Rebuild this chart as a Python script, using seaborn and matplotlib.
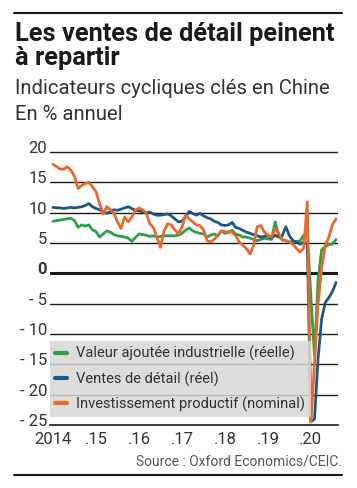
import numpy as np
import pandas as pd
import matplotlib
matplotlib.use("Agg")
import matplotlib.pyplot as plt
import matplotlib.transforms as mtransforms
from matplotlib import font_manager
import seaborn as sns

# Données mensuelles, janvier 2014 -> août 2020 (en % annuel)
mois = pd.date_range("2014-01-01", "2020-08-01", freq="MS")

valeur_ajoutee = [
    8.6, 8.7, 8.8, 8.9, 9.0, 9.1, 8.7, 7.6, 8.0, 7.8, 8.0, 7.2,
    6.9, 6.0, 6.5, 7.0, 6.8, 6.4, 6.2, 6.1, 6.0, 5.8, 5.3, 5.9,
    6.5, 6.4, 6.3, 6.1, 6.2, 6.0, 6.1, 6.2, 6.2, 6.2, 6.2, 6.3,
    6.6, 7.1, 7.5, 7.0, 6.8, 6.6, 6.5, 6.0, 6.3, 6.5, 6.2, 7.0,
    6.6, 6.8, 7.1, 6.5, 6.3, 6.0, 6.0, 5.8, 5.6, 5.4, 5.6, 5.8,
    5.7, 5.6, 8.5, 6.3, 5.5, 5.4, 5.2, 5.2, 5.2, 5.4, 6.3, 6.6,
    -4.0, -13.5, -1.1, 3.9, 4.4, 4.8, 4.8, 5.6,
]

ventes_detail = [
    10.9, 10.8, 10.8, 10.7, 10.8, 10.9, 10.8, 10.9, 11.0, 11.2, 11.5, 11.0,
    10.7, 10.5, 10.2, 9.9, 10.2, 10.5, 10.4, 10.6, 10.8, 11.0, 10.7, 10.4,
    10.3, 10.2, 10.0, 10.1, 9.8, 9.6, 9.6, 9.7, 9.8, 9.5, 9.0, 8.5,
    8.6, 9.3, 10.2, 9.9, 9.6, 9.9, 9.5, 9.2, 9.0, 8.6, 8.4, 8.0,
    7.9, 8.0, 8.4, 7.6, 7.4, 7.1, 6.8, 6.6, 6.4, 6.2, 6.0, 6.1,
    6.3, 5.8, 6.3, 6.0, 6.2, 7.7, 6.2, 5.4, 5.2, 4.8, 5.2, 4.8,
    -24.5, -24.0, -14.0, -7.5, -4.8, -4.0, -3.0, -1.5,
]

investissement = [
    18.0, 17.6, 17.2, 17.2, 17.6, 17.0, 16.0, 14.0, 14.5, 14.8, 15.0, 14.3,
    13.5, 11.5, 9.8, 11.0, 10.5, 9.9, 8.5, 7.4, 9.3, 8.5, 9.3, 10.4,
    10.8, 10.5, 10.0, 8.2, 7.6, 6.0, 4.3, 7.0, 8.2, 8.0, 7.2, 6.5,
    7.6, 9.6, 9.0, 8.5, 8.0, 7.9, 7.2, 5.4, 5.2, 5.6, 6.3, 7.0,
    6.9, 6.8, 6.8, 6.2, 5.2, 4.6, 4.1, 3.2, 4.6, 7.7, 7.9, 6.8,
    6.3, 6.0, 7.4, 6.6, 5.6, 5.4, 5.2, 4.8, 4.1, 3.5, 4.2, 11.8,
    -24.5, -15.0, -5.0, 1.0, 4.5, 6.0, 8.0, 9.0,
]

series = [
    "Valeur ajoutée industrielle (réelle)",
    "Ventes de détail (réel)",
    "Investissement productif (nominal)",
]
couleurs = ["#2f9e48", "#1b5886", "#e8692c"]

annees = [2014, 2015, 2016, 2017, 2018, 2019, 2020]
labels_annees = ["2014", ".15", ".16", ".17", ".18", ".19", ".20"]
graduations_y = [20, 15, 10, 5, 0, -5, -10, -15, -20, -25]
labels_y = ["20", "15", "10", "5", "0", "- 5", "- 10", "- 15", "- 20", "- 25"]

# format long pour seaborn
temps = mois.year + (mois.month - 1) / 12
df = pd.DataFrame({
    "temps": np.tile(temps, 3),
    "valeur": valeur_ajoutee + ventes_detail + investissement,
    "serie": np.repeat(series, len(mois)),
})

sns.set_style("white")
installees = {f.name for f in font_manager.fontManager.ttflist}
police = "Roboto" if "Roboto" in installees else "DejaVu Sans"
plt.rcParams["font.family"] = [police, "DejaVu Sans"]

fig = plt.figure(figsize=(3.57, 4.88), dpi=100)
ax = fig.add_axes([50 / 357, 1 - 425 / 488, 288 / 357, (425 - 150) / 488])

sns.lineplot(data=df, x="temps", y="valeur", hue="serie", hue_order=series,
             palette=couleurs, linewidth=2.0, ax=ax, legend=True)

ax.set_xlim(2013.93, 2020.63)
ax.set_ylim(-25, 20.35)

# grille horizontale
for v in graduations_y:
    if v == -25:
        continue
    ax.axhline(v, color="#1a1a1a", lw=2.2 if v == 0 else 1.0, zorder=0.5)

for s in ["top", "right", "left"]:
    ax.spines[s].set_visible(False)
ax.spines["bottom"].set_color("#1a1a1a")
ax.spines["bottom"].set_linewidth(1.2)

ax.set_xticks(annees)
ax.set_xticklabels(labels_annees)
ax.tick_params(axis="x", direction="out", length=4, width=1.2, color="#1a1a1a",
               labelsize=12, labelcolor="#333333", pad=1)
ax.set_yticks(graduations_y)
ax.set_yticklabels(labels_y)
ax.tick_params(axis="y", length=0, labelsize=12, labelcolor="#333333", pad=2)
decal = mtransforms.ScaledTranslation(0, 5 / 100, fig.dpi_scale_trans)
for lab in ax.get_yticklabels():
    lab.set_transform(lab.get_transform() + decal)
    if lab.get_text() == "0":
        lab.set_fontweight("bold")
ax.set_xlabel("")
ax.set_ylabel("")

leg = ax.legend(loc="lower left", bbox_to_anchor=(0.0, 0.029), frameon=True,
                fontsize=10.6, handlelength=0.8, handletextpad=0.65,
                labelspacing=0.68, borderpad=0.35, borderaxespad=0,
                fancybox=False)
leg.get_frame().set_facecolor("#d6d6d6")
leg.get_frame().set_edgecolor("none")
leg.get_frame().set_alpha(0.85)
for line in leg.get_lines():
    line.set_linewidth(3)
for t in leg.get_texts():
    t.set_color("#333333")

# titres et filets
fig.add_artist(plt.Line2D([14 / 357, 342 / 357], [1 - 13 / 488] * 2, color="#1a1a1a", lw=1.5))
fig.text(15 / 357, 1 - 41.5 / 488, "Les ventes de détail peinent",
         fontsize=18.3, fontweight="bold", color="#1a1a1a", va="baseline")
fig.text(15 / 357, 1 - 65.5 / 488, "à repartir",
         fontsize=18.3, fontweight="bold", color="#1a1a1a", va="baseline")
fig.text(15 / 357, 1 - 93.5 / 488, "Indicateurs cycliques clés en Chine",
         fontsize=14.6, color="#333333", va="baseline")
fig.text(15 / 357, 1 - 119.5 / 488, "En % annuel",
         fontsize=14.6, color="#333333", va="baseline")
fig.text(342 / 357, 1 - 462 / 488, "Source : Oxford Economics/CEIC.",
         fontsize=10, color="#555555", ha="right", va="center")
fig.add_artist(plt.Line2D([14 / 357, 342 / 357], [1 - 475 / 488] * 2, color="#1a1a1a", lw=1.5))

fig.savefig("out.png", dpi=100)
